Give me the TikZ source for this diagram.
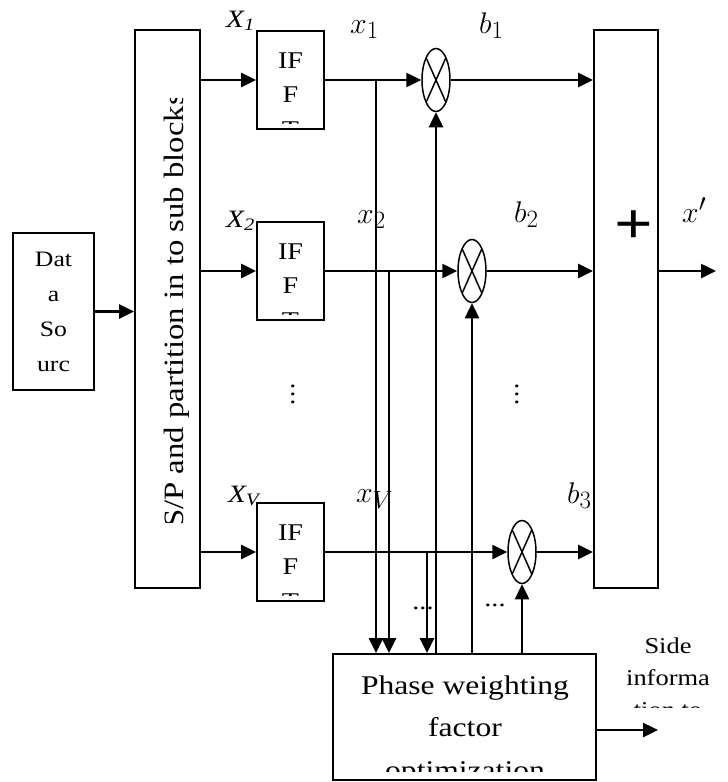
\documentclass[tikz,border=0pt]{standalone}
\usepackage{graphicx}
\usepackage{fontspec}
\setmainfont{Liberation Serif}[FakeStretch=1.17]
\usepackage{tikz}
\usetikzlibrary{arrows.meta, shapes.geometric, calc}
\newcommand{\biglbl}[1]{\scalebox{1.2}{$#1$}}
\tikzset{
	blockbox/.style={draw, line width=1.8pt, inner sep=0pt},
	multnode/.style={draw, ellipse, line width=1.5pt, minimum width=28pt, minimum height=63pt, inner sep=0pt,
		path picture={\draw[line width=1.5pt] (path picture bounding box.north west) -- (path picture bounding box.south east)
			(path picture bounding box.north east) -- (path picture bounding box.south west);}},
	sigarr/.style={-{Triangle[length=15pt, width=14pt]}, line width=2.5pt},
	basetxt/.style={inner sep=0pt, anchor=base, font=\fontsize{#1}{#1}\selectfont},
	lbltxt/.style={inner sep=0pt, anchor=base west, font=\fontsize{25}{28}\selectfont\itshape},
	mathlbl/.style={inner sep=0pt, anchor=base west, font=\fontsize{24.88}{30}\selectfont},
	dotstxt/.style={inner sep=0pt, align=center, font=\fontsize{24}{8}\selectfont},
}

\begin{document}
\begin{tikzpicture}[x=1pt, y=-1pt]
	\useasboundingbox (0,0) rectangle (728,782);
	% source and S/P block
	\node[blockbox, minimum width=81pt, minimum height=157pt, align=center, font=\fontsize{22}{35}\selectfont] (src) at (53.5,311.5) {Dat\\a\\So\\urc};
	\node[blockbox, minimum width=65pt, minimum height=558pt] (sp) at (167.5,309) {};
	\begin{scope}
		\clip (136,98) rectangle (199,522);
		\node[basetxt=28, rotate=90] (sptxt) at (183,310.5) {S/P and partition in to sub blocks};
	\end{scope}
	\draw[sigarr] (src.east) -- (sp.west |- src.east);
	% adder
	\node[blockbox, minimum width=64pt, minimum height=558pt] (add) at (626,309) {};
	\node[inner sep=0pt, font=\fontsize{58}{58}\selectfont\bfseries] (plus) at (634,227) {+};
	% optimization block
	\node[blockbox, minimum width=263pt, minimum height=126pt] (pw) at (464.5,717) {};
	\begin{scope}
		\clip (335,656) rectangle (594,771);
		\node[basetxt=27] (pw1) at (465,694) {Phase weighting};
		\node[basetxt=27] (pw2) at (465,736.5) {factor};
		\node[basetxt=27] (pw3) at (465,779) {optimization};
	\end{scope}
	% branches
	\foreach \i/\y/\m in {1/80/436, 2/271/472, 3/552/522} {
		\node[blockbox, minimum width=67pt, minimum height=98pt] (ifft\i) at (290.5,\y) {};
		\begin{scope}
			\clip (258,\y-46) rectangle (323,\y+43);
			\node[basetxt=24] at (290.5,\y-12) {IF};
			\node[basetxt=24] at (290.5,\y+22) {F};
			\node[basetxt=24] at (290.5,\y+57) {T};
		\end{scope}
		\node[multnode] (mul\i) at (\m,\y) {};
		\draw[sigarr] (sp.east |- ifft\i.west) -- (ifft\i.west);
		\draw[sigarr] (ifft\i) -- (mul\i);
		\draw[sigarr] (mul\i) -- (add.west |- mul\i);
		\draw[sigarr] (mul\i.south |- pw.north) -- (mul\i.south);
	}
	% taps down to the optimization block
	\coordinate (tap1) at (376,80);
	\coordinate (tap2) at (389,271);
	\coordinate (tap3) at (427,552);
	\foreach \i in {1,2,3}
		\draw[sigarr] (tap\i) -- (tap\i |- pw.north);
	% labels
	\node[lbltxt] (X1) at (226,27) {X\textsubscript{1}};
	\node[lbltxt] (X2) at (226,227) {X\textsubscript{2}};
	\node[lbltxt] (XV) at (228,502) {X\textsubscript{V}};
	\node[mathlbl] (x1) at (350,33) {\biglbl{x_1}};
	\node[mathlbl] (x2) at (357,223) {\biglbl{x_2}};
	\node[mathlbl] (xV) at (356,502) {\biglbl{x_V}};
	\node[mathlbl] (b1) at (479,33) {\biglbl{b_1}};
	\node[mathlbl] (b2) at (514,222) {\biglbl{b_2}};
	\node[mathlbl] (b3) at (567,503) {\biglbl{b_3}};
	\node[mathlbl] (xout) at (682,222) {\biglbl{x'}};
	\node[dotstxt] (vd1) at (293,394) {.\\.\\.};
	\node[dotstxt] (vd2) at (517,394) {.\\.\\.};
	\node[basetxt=24] (hd1) at (423,609) {...};
	\node[basetxt=24] (hd2) at (495,606) {...};
	% outputs
	\coordinate (out) at (716,271);
	\draw[sigarr] (add.east |- mul2) -- (out);
	\coordinate (sideend) at (658,730);
	\draw[sigarr] (pw.east |- sideend) -- (sideend);
	\begin{scope}
		\clip (600,620) rectangle (728,707);
		\node[basetxt=22.6] (side1) at (668,653) {Side};
		\node[basetxt=22.6] (side2) at (668,685) {informa};
		\node[basetxt=22.6] (side3) at (668,717) {tion to};
	\end{scope}
\end{tikzpicture}
\end{document}
